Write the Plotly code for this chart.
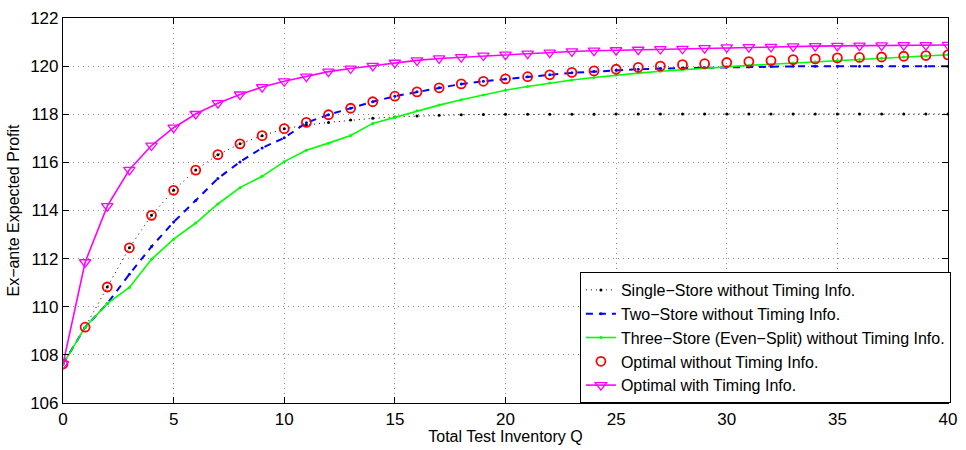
import plotly.graph_objects as go

# Total test inventory Q = 0..40
q = list(range(41))

# Ex-ante expected profit for each policy
single_store = [107.62, 109.15, 110.82, 112.45, 113.80, 114.84, 115.68, 116.32, 116.77, 117.11,
                117.40, 117.55, 117.66, 117.76, 117.83, 117.89, 117.93, 117.96, 117.98, 117.99,
                118.00, 118.00, 118.00, 118.00, 118.00, 118.01, 118.01, 118.01, 118.01, 118.01,
                118.01, 118.01, 118.01, 118.01, 118.01, 118.01, 118.01, 118.01, 118.01, 118.01, 118.01]

two_store = [107.62, 109.15, 110.13, 111.35, 112.50, 113.52, 114.42, 115.33, 116.02, 116.60,
             117.02, 117.65, 117.98, 118.25, 118.52, 118.75, 118.93, 119.10, 119.26, 119.37,
             119.47, 119.56, 119.64, 119.72, 119.78, 119.83, 119.87, 119.90, 119.92, 119.94,
             119.96, 119.97, 119.98, 119.99, 119.99, 120.00, 120.00, 120.00, 120.00, 120.00, 120.00]

three_store = [107.62, 109.15, 110.13, 110.80, 111.97, 112.81, 113.48, 114.27, 114.95, 115.42,
               116.03, 116.50, 116.80, 117.12, 117.62, 117.87, 118.15, 118.38, 118.60, 118.80,
               119.00, 119.15, 119.30, 119.42, 119.53, 119.63, 119.71, 119.79, 119.86, 119.92,
               119.97, 120.03, 120.08, 120.13, 120.18, 120.23, 120.28, 120.33, 120.38, 120.43, 120.47]

optimal_no_timing = [107.62, 109.15, 110.82, 112.45, 113.80, 114.84, 115.68, 116.32, 116.77, 117.11,
                     117.40, 117.66, 117.98, 118.25, 118.52, 118.75, 118.93, 119.10, 119.26, 119.37,
                     119.47, 119.56, 119.64, 119.74, 119.80, 119.87, 119.95, 120.00, 120.06, 120.10,
                     120.15, 120.19, 120.23, 120.27, 120.30, 120.34, 120.36, 120.38, 120.41, 120.44, 120.47]

optimal_timing = [107.62, 111.85, 114.18, 115.69, 116.70, 117.44, 118.01, 118.46, 118.82, 119.13,
                  119.37, 119.56, 119.77, 119.90, 120.01, 120.14, 120.24, 120.32, 120.37, 120.44,
                  120.48, 120.52, 120.56, 120.61, 120.64, 120.66, 120.68, 120.71, 120.72, 120.75,
                  120.78, 120.79, 120.80, 120.82, 120.83, 120.84, 120.85, 120.86, 120.87, 120.87, 120.88]

x_ticks = [0, 5, 10, 15, 20, 25, 30, 35, 40]
y_ticks = [106, 108, 110, 112, 114, 116, 118, 120, 122]

MINUS = "\u2212"
names = [
    f"Single{MINUS}Store without Timing Info.",
    f"Two{MINUS}Store without Timing Info.",
    f"Three{MINUS}Store (Even{MINUS}Split) without Timing Info.",
    "Optimal without Timing Info.",
    "Optimal with Timing Info.",
]

font_family = "Liberation Sans, Arial, Helvetica, sans-serif"

fig = go.Figure()

fig.add_trace(go.Scatter(
    x=q, y=single_store, name=names[0], mode="lines+markers",
    line=dict(color="black", dash="1px,4px", width=1),
    marker=dict(color="black", size=3, symbol="circle"),
))
fig.add_trace(go.Scatter(
    x=q, y=two_store, name=names[1], mode="lines+markers",
    line=dict(color="#0000ff", dash="7px,6px", width=2),
    marker=dict(color="#0000ff", size=3, symbol="circle"),
))
fig.add_trace(go.Scatter(
    x=q, y=three_store, name=names[2], mode="lines+markers",
    line=dict(color="#00ff00", width=1.6),
    marker=dict(color="#00ff00", size=3, symbol="circle"),
))
fig.add_trace(go.Scatter(
    x=q, y=optimal_no_timing, name=names[3], mode="markers",
    marker=dict(color="#ff0000", size=9, symbol="circle-open",
                line=dict(color="#ff0000", width=1.8)),
))
fig.add_trace(go.Scatter(
    x=q, y=optimal_timing, name=names[4], mode="lines+markers",
    line=dict(color="#ff00ff", width=1.6),
    marker=dict(color="#ff00ff", size=10, symbol="triangle-down-open",
                line=dict(color="#ff00ff", width=1.3)),
))

axis_common = dict(
    showline=True, linecolor="black", linewidth=1.2, mirror="ticks",
    ticks="inside", ticklen=6, tickcolor="black", tickwidth=1,
    showgrid=True, gridcolor="#8a8a8a", griddash="1px,4px", gridwidth=1,
    zeroline=False,
    tickfont=dict(family=font_family, size=17, color="black"),
)

fig.update_xaxes(
    range=[0, 40], tickvals=x_ticks, ticktext=[str(v) for v in x_ticks],
    title=dict(text="Total Test Inventory Q", standoff=1,
               font=dict(family=font_family, size=16, color="black")),
    **axis_common,
)
fig.update_yaxes(
    range=[106, 122], tickvals=y_ticks, ticktext=[str(v) for v in y_ticks],
    title=dict(text=f"Ex{MINUS}ante Expected Profit", standoff=6,
               font=dict(family=font_family, size=16, color="black")),
    **axis_common,
)

fig.update_layout(
    width=966, height=450,
    margin=dict(l=63, r=9, t=16, b=39),
    paper_bgcolor="white", plot_bgcolor="white",
    font=dict(family=font_family, size=16, color="black"),
    legend=dict(
        x=1.0033, y=0.0, xanchor="right", yanchor="bottom",
        bgcolor="white", bordercolor="black", borderwidth=1,
        font=dict(family=font_family, size=16, color="black"),
        tracegroupgap=0, itemwidth=30,
    ),
    showlegend=True,
)

fig.write_html("out.html")
